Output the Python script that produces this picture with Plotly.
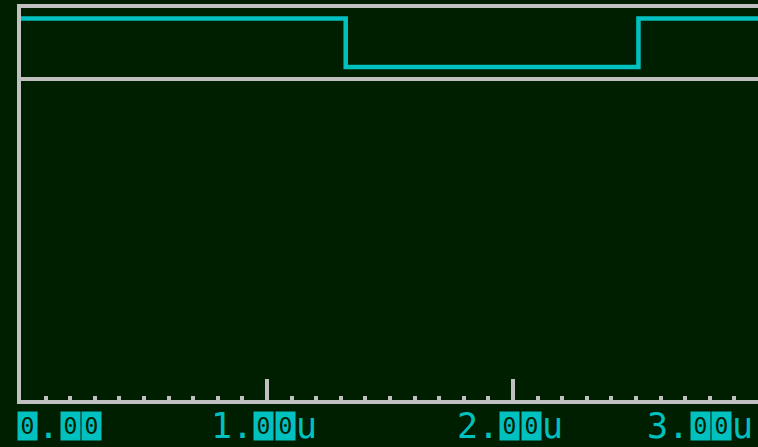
import plotly.graph_objects as go

# Digital channel: level changes (time in seconds, logic level)
edge_times = [0.0, 1.32e-6, 2.51e-6, 3.0e-6]
edge_levels = [1, 0, 1, 1]

# Time axis labels
tick_values = [0.0, 1e-6, 2e-6, 3e-6]
tick_labels = ["0.00", "1.00u", "2.00u", "3.00u"]
minor_step = 0.1e-6

BG = "#001f00"
FG = "#00c0c0"
GRID = "#c0c0c0"

W, H = 758, 447
M_L, M_R, M_T, M_B = 21, 0, 8, 47
X_RANGE = [0.0, 2.996e-6]
Y_RANGE = [-6.866, 1.2165]
LANE_DIVIDER = -0.247


def to_paper(v):
    return (v - X_RANGE[0]) / (X_RANGE[1] - X_RANGE[0])


fig = go.Figure()
fig.add_trace(go.Scatter(
    x=edge_times, y=edge_levels, mode="lines",
    line=dict(shape="hv", color=FG, width=4.5),
    hoverinfo="skip", showlegend=False,
))

# separator under the channel lane
fig.add_shape(type="line", xref="paper", x0=0, x1=1, yref="y",
              y0=LANE_DIVIDER, y1=LANE_DIVIDER,
              line=dict(color=GRID, width=4), layer="below")

# tick labels drawn glyph by glyph so zeros can be shown in inverse video
PITCH = 21.3
CELL_W, CELL_H = 19, 28
LABEL_MID = -26  # vertical centre of the glyphs below the axis edge
annotations = []
for k, (val, lab) in enumerate(zip(tick_values, tick_labels)):
    width = len(lab) * PITCH
    if k == 0:
        start = -4
    elif k == len(tick_labels) - 1:
        start = -112
    else:
        start = -width / 2 - 3
    for i, ch in enumerate(lab):
        shift = start + (i + 0.5) * PITCH
        base = dict(x=to_paper(val), xref="paper", y=0, yref="paper",
                    xanchor="center", yanchor="middle",
                    xshift=shift, yshift=LABEL_MID, text=ch,
                    showarrow=False)
        if ch == "0":
            base.update(bgcolor=FG, borderpad=0, width=CELL_W,
                        height=CELL_H, valign="middle",
                        font=dict(family="DejaVu Sans Mono", size=23,
                                  color=BG))
        else:
            base.update(font=dict(family="DejaVu Sans Mono", size=35,
                                  color=FG))
        annotations.append(base)

fig.update_layout(
    width=W, height=H,
    margin=dict(l=M_L, r=M_R, t=M_T, b=M_B, pad=0),
    paper_bgcolor=BG, plot_bgcolor=BG,
    annotations=annotations,
    xaxis=dict(
        range=X_RANGE, showgrid=False, zeroline=False,
        showline=True, linecolor=GRID, linewidth=4, mirror=True,
        tickvals=tick_values, ticktext=tick_labels, showticklabels=False,
        ticks="inside", ticklen=21, tickwidth=4, tickcolor=GRID,
        minor=dict(dtick=minor_step, tick0=0, ticks="inside", ticklen=4,
                   tickwidth=4, tickcolor=GRID, showgrid=False),
        layer="below traces", fixedrange=True,
    ),
    yaxis=dict(
        range=Y_RANGE, showgrid=False, zeroline=False,
        showline=True, linecolor=GRID, linewidth=4, mirror=False,
        showticklabels=False, ticks="", layer="below traces",
        fixedrange=True,
    ),
)

fig.write_html("out.html", config=dict(displayModeBar=False))
